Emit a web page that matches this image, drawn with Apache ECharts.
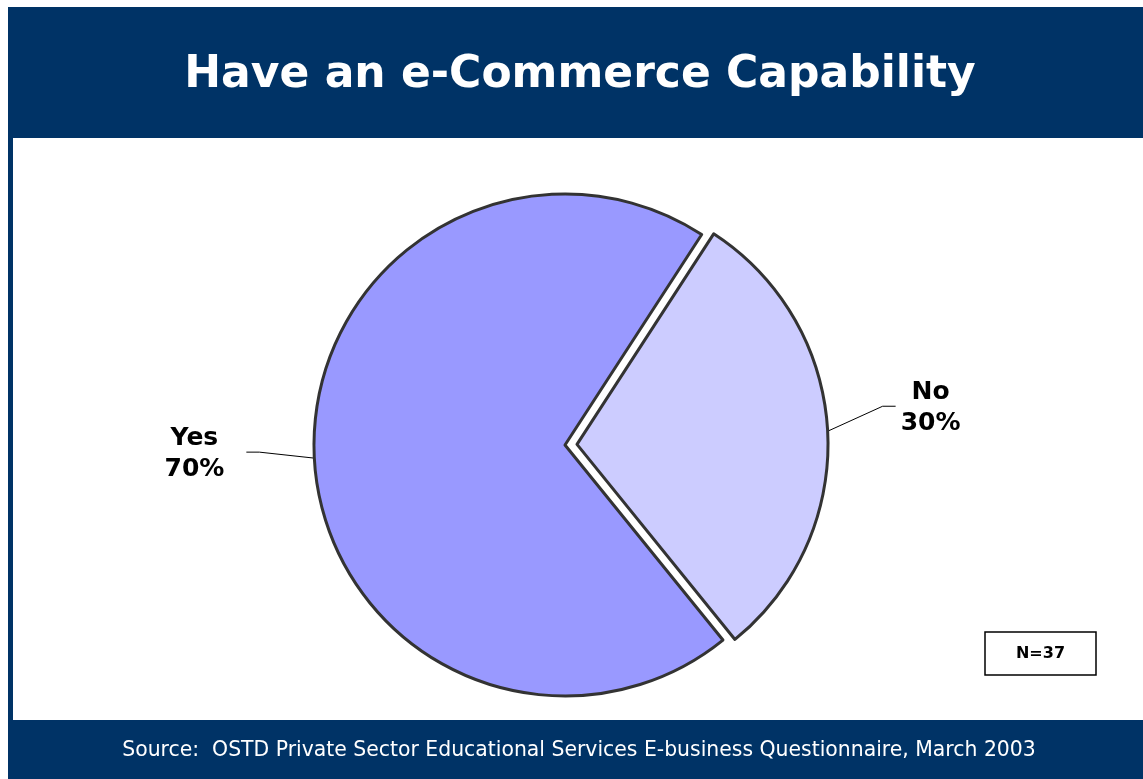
<!DOCTYPE html>
<html>
<head>
<meta charset="utf-8">
<title>Have an e-Commerce Capability</title>
<script src="https://cdn.jsdelivr.net/npm/echarts@6/dist/echarts.min.js"></script>
<style>
  html, body { margin: 0; padding: 0; background: #ffffff; }
  #chart { width: 1143px; height: 779px; }
</style>
</head>
<body>
<div id="chart"></div>
<script>
// Survey answers and their shares (percent)
const categories = ['No', 'Yes'];
const shares = [30, 70];
const sliceColors = ['#CCCCFF', '#9999FF'];
const explodedCategory = 'No';
const titleText = 'Have an e-Commerce Capability';
const sourceText = 'Source:  OSTD Private Sector Educational Services E-business Questionnaire, March 2003';
const sampleText = 'N=37';

const NAVY = '#003366';
const OUTLINE = '#333333';
const FONT = '"DejaVu Sans", Verdana, sans-serif';

const pieCenter = [565, 445];
const pieRadius = 251;
const startAngle = 57;
const explodeDistance = 12;

// The exploded slice is drawn by its own series whose centre is pushed out
// along the slice's bisector.
const total = shares.reduce((a, b) => a + b, 0);
let before = 0;
for (let i = 0; i < categories.length && categories[i] !== explodedCategory; i++) before += shares[i];
const explodedIndex = categories.indexOf(explodedCategory);
const midDeg = startAngle - 360 * (before + shares[explodedIndex] / 2) / total;
const midRad = midDeg * Math.PI / 180;
const explodedCenter = [
  pieCenter[0] + explodeDistance * Math.cos(midRad),
  pieCenter[1] - explodeDistance * Math.sin(midRad)
];

const chart = echarts.init(document.getElementById('chart'), null, { renderer: 'canvas' });

function seriesData(showExploded) {
  return categories.map((name, i) => {
    const visible = (name === explodedCategory) === showExploded;
    if (!visible) {
      return {
        name: name, value: shares[i],
        itemStyle: { color: 'rgba(0,0,0,0)', borderWidth: 0 },
        label: { show: false }, labelLine: { show: false }
      };
    }
    return {
      name: name, value: shares[i],
      itemStyle: { color: sliceColors[i], borderColor: OUTLINE, borderWidth: 3 }
    };
  });
}

// Bent leader line with a centred two-line caption beyond its end
function placeLabel(params) {
  const pts = params.labelLinePoints;
  if (!pts) return {};
  const s = pts[0];
  const dir = s[0] > pieCenter[0] ? 1 : -1;
  const rise = dir > 0 ? 25 : 6;
  const gap = dir > 0 ? 5 : 22;
  const m = [s[0] + dir * 55, s[1] - rise];
  const e = [m[0] + dir * 13, m[1]];
  const w = params.labelRect.width;
  return {
    x: e[0] + dir * (gap + w / 2),
    y: e[1] + 2,
    align: 'center',
    verticalAlign: 'middle',
    labelLinePoints: [s, m, e]
  };
}

function pieSeries(center, showExploded) {
  return {
    type: 'pie',
    center: center,
    radius: pieRadius,
    startAngle: startAngle,
    clockwise: true,
    selectedMode: false,
    emphasis: { disabled: true },
    silent: true,
    avoidLabelOverlap: false,
    label: {
      show: true,
      position: 'outside',
      formatter: '{b}\n{c}%',
      fontFamily: FONT,
      fontWeight: 'bold',
      fontSize: 25,
      lineHeight: 31,
      color: '#000000',
      align: 'center'
    },
    labelLine: {
      show: true,
      length: 50,
      length2: 13,
      smooth: false,
      lineStyle: { color: '#000000', width: 1 }
    },
    labelLayout: placeLabel,
    data: seriesData(showExploded)
  };
}

chart.setOption({
  backgroundColor: '#ffffff',
  animation: false,
  graphic: [
    { type: 'rect', silent: true, z: -10, shape: { x: 8, y: 7, width: 1135, height: 772 }, style: { fill: NAVY } },
    { type: 'rect', silent: true, z: -9, shape: { x: 13, y: 138, width: 1130, height: 582 }, style: { fill: '#ffffff' } },
    {
      type: 'text', silent: true, x: 580, y: 76,
      style: { text: titleText, fill: '#ffffff', font: 'bold 44px ' + FONT, textAlign: 'center', textVerticalAlign: 'middle' }
    },
    {
      type: 'text', silent: true, x: 579, y: 751,
      style: { text: sourceText, fill: '#ffffff', font: '20.4px ' + FONT, textAlign: 'center', textVerticalAlign: 'middle' }
    },
    {
      type: 'group', x: 985, y: 632,
      children: [
        { type: 'rect', shape: { x: 0, y: 0, width: 111, height: 43 }, style: { fill: '#ffffff', stroke: '#000000', lineWidth: 1.5 } },
        { type: 'text', x: 55.5, y: 22, style: { text: sampleText, fill: '#000', font: 'bold 16px ' + FONT, textAlign: 'center', textVerticalAlign: 'middle' } }
      ]
    }
  ],
  series: [
    pieSeries(pieCenter, false),
    pieSeries(explodedCenter, true)
  ]
});
</script>
</body>
</html>
